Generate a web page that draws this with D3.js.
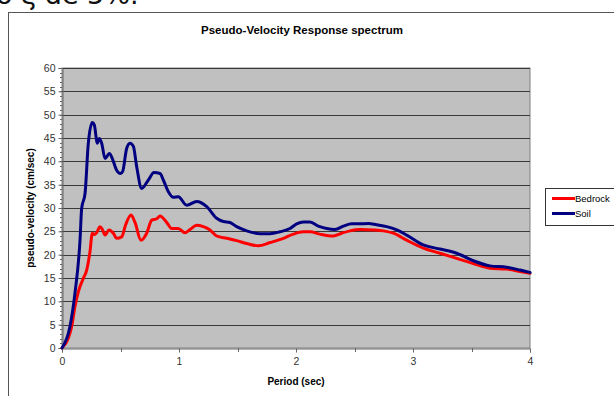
<!DOCTYPE html>
<html>
<head>
<meta charset="utf-8">
<script src="https://cdn.jsdelivr.net/npm/d3@7"></script>
<style>
  html, body { margin: 0; padding: 0; background: #fff; overflow: hidden; }
  svg { display: block; font-family: "Liberation Sans", Arial, sans-serif; }
</style>
</head>
<body>
<svg id="chart" width="614" height="396"></svg>
<script>
const chartTitle = "Pseudo-Velocity Response spectrum";
const xTitle = "Period (sec)";
const yTitle = "pseudo-velocity  (cm/sec)";
const seriesNames = ["Bedrock", "Soil"];
const seriesColors = ["#ff0000", "#000080"];
const xTicks = [0, 1, 2, 3, 4];
const yTicks = [0, 5, 10, 15, 20, 25, 30, 35, 40, 45, 50, 55, 60];

const bedrockPeriod = [0, 0.054, 0.083, 0.111, 0.14, 0.182, 0.211, 0.239, 0.259, 0.276, 0.296, 0.325, 0.345, 0.368, 0.402, 0.439, 0.467, 0.51, 0.544, 0.59, 0.624, 0.675, 0.724, 0.767, 0.81, 0.838, 0.895, 0.937, 0.994, 1.051, 1.094, 1.151, 1.208, 1.265, 1.322, 1.408, 1.493, 1.578, 1.678, 1.778, 1.892, 1.977, 2.063, 2.12, 2.205, 2.319, 2.39, 2.462, 2.547, 2.661, 2.747, 2.832, 2.946, 3.088, 3.231, 3.373, 3.515, 3.658, 3.801, 3.915, 4.0];
const bedrockVel = [0, 2.1, 4.6, 8.9, 12.1, 14.9, 16.7, 20.6, 24.6, 24.3, 24.7, 26, 25.4, 24.2, 25.3, 24.6, 23.5, 23.8, 26.4, 28.5, 26.9, 23.1, 24.6, 27.4, 27.7, 28.3, 26.9, 25.6, 25.6, 24.7, 25.4, 26.3, 26, 25.3, 24, 23.5, 23, 22.4, 21.9, 22.6, 23.5, 24.4, 24.9, 24.9, 24.4, 24, 24.6, 25.1, 25.4, 25.3, 25.1, 24.6, 23.1, 21.4, 20.3, 19.2, 18.1, 17.1, 16.9, 16.4, 16];

const soilPeriod = [0, 0.068, 0.111, 0.154, 0.168, 0.197, 0.225, 0.259, 0.276, 0.302, 0.319, 0.339, 0.368, 0.405, 0.43, 0.467, 0.5, 0.518, 0.553, 0.581, 0.61, 0.638, 0.681, 0.738, 0.786, 0.838, 0.866, 0.909, 0.952, 0.994, 1.066, 1.151, 1.237, 1.322, 1.379, 1.436, 1.493, 1.578, 1.692, 1.778, 1.863, 1.949, 2.006, 2.063, 2.12, 2.191, 2.262, 2.333, 2.405, 2.476, 2.547, 2.618, 2.69, 2.775, 2.861, 2.946, 3.088, 3.231, 3.373, 3.515, 3.658, 3.801, 3.915, 4.0];
const soilVel = [0, 4.6, 11.8, 23.1, 29.9, 33.1, 43.9, 48.3, 47.8, 43.9, 44.9, 43.9, 40.6, 41.7, 40.6, 38.1, 37.4, 37.8, 42.8, 43.9, 43.2, 38.9, 34.2, 36, 37.6, 37.4, 36, 33.5, 32.3, 32.4, 30.6, 31.4, 30.3, 27.8, 27.1, 26.9, 26, 25.1, 24.5, 24.5, 24.9, 25.6, 26.6, 27, 27, 26.1, 25.6, 25.4, 26.1, 26.6, 26.6, 26.7, 26.4, 26, 25.3, 24.2, 22.1, 21.2, 20.3, 18.7, 17.6, 17.3, 16.7, 16.2];

const svg = d3.select("#chart");

// partially visible slide text above the chart
svg.append("text").attr("x", -4).attr("y", 4)
  .attr("font-size", 27).attr("fill", "#111")
  .attr("font-family", "'DejaVu Sans', sans-serif")
  .text("o ξ de 5%.");

// chart frame
svg.append("rect").attr("x", 8.5).attr("y", 12.5).attr("width", 640).attr("height", 420)
  .attr("fill", "#fff").attr("stroke", "#555").attr("stroke-width", 1);

const plot = { left: 62, right: 530, top: 68, bottom: 348 };
const x = d3.scaleLinear().domain([0, 4]).range([plot.left, plot.right]);
const y = d3.scaleLinear().domain([0, 60]).range([plot.bottom, plot.top]);

svg.append("rect").attr("x", plot.left).attr("y", plot.top)
  .attr("width", plot.right - plot.left).attr("height", plot.bottom - plot.top)
  .attr("fill", "#c0c0c0").attr("stroke", "#808080").attr("stroke-width", 1);

// gridlines
svg.append("g").selectAll("line").data(yTicks.filter(d => d > 0)).join("line")
  .attr("x1", plot.left).attr("x2", plot.right)
  .attr("y1", d => Math.round(y(d)) + 0.5).attr("y2", d => Math.round(y(d)) + 0.5)
  .attr("stroke", "#3a3a3a").attr("stroke-width", 1);

// y axis with minor ticks
const yMinor = d3.range(0, 61, 1);
svg.append("g").selectAll("line").data(yMinor).join("line")
  .attr("x1", plot.left - 2).attr("x2", plot.left)
  .attr("y1", d => Math.round(y(d)) + 0.5).attr("y2", d => Math.round(y(d)) + 0.5)
  .attr("stroke", "#666");
const yAxis = svg.append("g").attr("transform", `translate(${plot.left + 0.5},0)`)
  .call(d3.axisLeft(y).tickValues(yTicks).tickSize(4).tickPadding(3).tickFormat(d3.format("d")));
yAxis.select(".domain").attr("stroke", "#666");
yAxis.selectAll(".tick line").attr("stroke", "#666");
yAxis.selectAll("text").attr("font-size", 10.5).attr("fill", "#333")
  .attr("font-family", "'Liberation Sans', Arial, sans-serif");

// x axis
const xAxis = svg.append("g").attr("transform", `translate(0,${plot.bottom + 0.5})`)
  .call(d3.axisBottom(x).tickValues(xTicks).tickSize(4).tickPadding(5).tickFormat(d3.format("d")));
xAxis.select(".domain").attr("stroke", "#666");
xAxis.selectAll(".tick line").attr("stroke", "#666");
xAxis.selectAll("text").attr("font-size", 10.5).attr("fill", "#333")
  .attr("font-family", "'Liberation Sans', Arial, sans-serif");
svg.append("g").selectAll("line").data([0.5, 1.5, 2.5, 3.5]).join("line")
  .attr("x1", d => Math.round(x(d)) + 0.5).attr("x2", d => Math.round(x(d)) + 0.5)
  .attr("y1", plot.bottom).attr("y2", plot.bottom + 4).attr("stroke", "#666");

// lines
const line = d3.line().x(d => x(d[0])).y(d => y(d[1])).curve(d3.curveMonotoneX);
const series = [
  d3.zip(bedrockPeriod, bedrockVel),
  d3.zip(soilPeriod, soilVel)
];
series.forEach((s, i) => {
  svg.append("path").datum(s).attr("d", line)
    .attr("fill", "none").attr("stroke", seriesColors[i])
    .attr("stroke-width", 3).attr("stroke-linejoin", "round").attr("stroke-linecap", "round");
});

// titles
svg.append("text").attr("x", 302).attr("y", 34).attr("text-anchor", "middle")
  .attr("font-size", 11.5).attr("font-weight", "bold").attr("fill", "#000").text(chartTitle);
svg.append("text").attr("x", 296).attr("y", 385).attr("text-anchor", "middle")
  .attr("font-size", 10).attr("font-weight", "bold").attr("fill", "#000").text(xTitle);
svg.append("text").attr("transform", "translate(34,208) rotate(-90)").attr("text-anchor", "middle")
  .attr("font-size", 10).attr("font-weight", "bold").attr("fill", "#000").text(yTitle);

// legend
const lg = svg.append("g");
lg.append("rect").attr("x", 545.5).attr("y", 188.5).attr("width", 90).attr("height", 37)
  .attr("fill", "#fff").attr("stroke", "#333");
seriesNames.forEach((n, i) => {
  const ly = 198.5 + i * 15;
  lg.append("line").attr("x1", 552).attr("x2", 575).attr("y1", ly).attr("y2", ly)
    .attr("stroke", seriesColors[i]).attr("stroke-width", 3);
  lg.append("text").attr("x", 575).attr("y", ly + 3.5).attr("font-size", 9.5)
    .attr("fill", "#000").text(n);
});
</script>
</body>
</html>
